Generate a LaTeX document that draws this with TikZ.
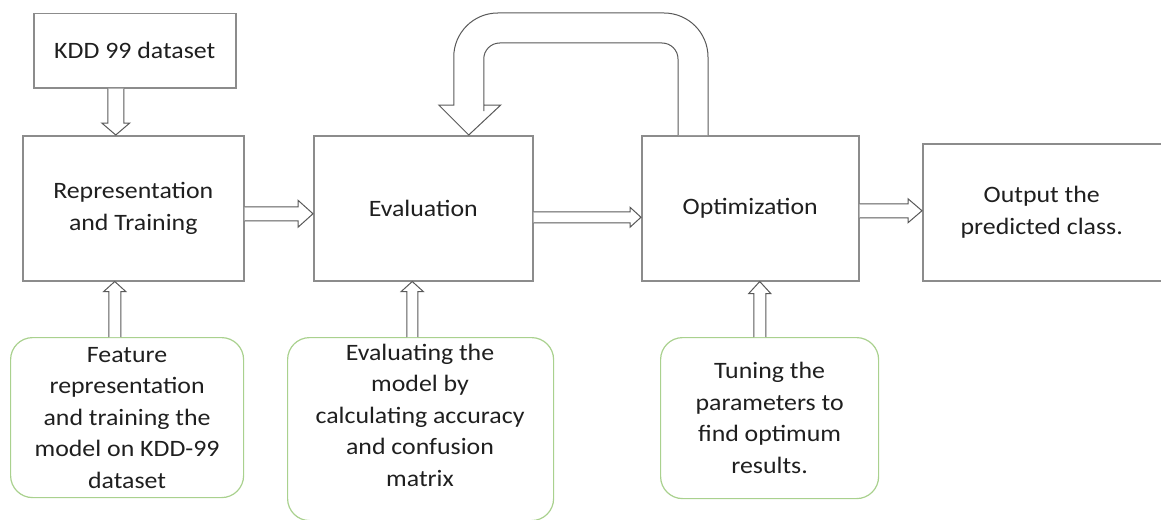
\documentclass[tikz,border=0pt]{standalone}
\usepackage{fontspec}
\setmainfont[FakeStretch=1.1]{Carlito}
\usetikzlibrary{calc}

\definecolor{boxline}{HTML}{8C8C8C}
\definecolor{arrowline}{HTML}{595959}
\definecolor{noteline}{HTML}{A9D18E}
\definecolor{txt}{HTML}{1F1F1F}

\tikzset{
  base/.style={font=\fontsize{23.5}{31.5}\selectfont, text=txt, align=center, inner sep=0pt},
  stepbox/.style={base, draw=boxline, line width=1.5pt, anchor=north west},
  notebox/.style={base, draw=noteline, line width=1.2pt, rounded corners=22pt, anchor=north west},
  notetext/.style={base},
  blockarrow/.style={draw=arrowline, fill=white, line width=1pt, line join=miter},
}

% straight hollow block arrow: tail, tip, shaft half-width, head half-width, head length
\newcommand\blockarrow[5]{%
  \coordinate (ba-head) at ($(#2)!#5!(#1)$);
  \draw[blockarrow] ($(#1)!#3!90:(#2)$) -- ($(ba-head)!#3!90:(#2)$)
    -- ($(ba-head)!#4!90:(#2)$) -- (#2) -- ($(ba-head)!#4!-90:(#2)$)
    -- ($(ba-head)!#3!-90:(#2)$) -- ($(#1)!#3!-90:(#2)$);
}

\begin{document}
\begin{tikzpicture}[x=1pt,y=-1pt]
\useasboundingbox (0,0) rectangle (1161,519);

% process steps
\node[stepbox, minimum width=202pt, minimum height=74pt] (kdd) at (33,13) {KDD 99 dataset};
\node[stepbox, minimum width=221pt, minimum height=145pt] (rep) at (22,135) {Representation\\and Training};
\node[stepbox, minimum width=219pt, minimum height=145pt] (eval) at (313,135) {Evaluation};
\node[stepbox, minimum width=217pt, minimum height=145pt] (opt) at (641,135) {Optimization};
\node[stepbox, minimum width=242pt, minimum height=137pt] (out) at (922,143) {\hspace*{-4pt}Output the\\\hspace*{-4pt}predicted class.};

% notes below the steps
\node[notebox, minimum width=233pt, minimum height=160pt] (featnote) at (10,337)
  {Feature\\representation\\and training the\\model on KDD-99\\dataset};
\node[notebox, minimum width=266pt, minimum height=183pt] (evalnote) at (287,337) {};
\node[notetext] (evaltext) at (420,415)
  {Evaluating the\\model by\\calculating accuracy\\and confusion\\matrix};
\node[notebox, minimum width=218pt, minimum height=161pt] (tunenote) at (660,337)
  {Tuning the\\parameters to\\find optimum\\results.};

% arrows between steps
\coordinate (a1tail) at ($(kdd.south)+(-19,0)$);
\coordinate (a1tip) at (a1tail |- rep.north);
\blockarrow{a1tail}{a1tip}{8pt}{14pt}{12pt}

\coordinate (a2tail) at ($(rep.east)+(0,5.5)$);
\coordinate (a2tip) at (a2tail -| eval.west);
\blockarrow{a2tail}{a2tip}{7pt}{13.5pt}{15pt}

\coordinate (a3tail) at ($(eval.east)+(0,9)$);
\coordinate (a3tip) at (a3tail -| opt.west);
\blockarrow{a3tail}{a3tip}{5.5pt}{10pt}{11pt}

\coordinate (a4tail) at ($(opt.east)+(0,2.5)$);
\coordinate (a4tip) at (a4tail -| out.west);
\blockarrow{a4tail}{a4tip}{7pt}{12pt}{14pt}

% arrows from the notes
\coordinate (b1tip) at ($(rep.south)+(-18.5,0)$);
\coordinate (b1tail) at (b1tip |- featnote.north);
\blockarrow{b1tail}{b1tip}{6pt}{11pt}{10pt}

\coordinate (b2tip) at ($(eval.south)+(-11,0)$);
\coordinate (b2tail) at (b2tip |- evalnote.north);
\blockarrow{b2tail}{b2tip}{5.5pt}{11pt}{10pt}

\coordinate (b3tip) at ($(opt.south)+(9.5,0)$);
\coordinate (b3tail) at (b3tip |- tunenote.north);
\blockarrow{b3tail}{b3tip}{6pt}{11pt}{12pt}

% feedback loop from optimization back to evaluation
\draw[blockarrow] let \p1=(opt.north west), \p2=(eval.north) in
  (\x1+37pt,\y1) [rounded corners=16pt]
  -- (\x1+37pt,\y1+92pt) -- (\x2+60.5pt,\y1+92pt) -- (\x2+60.5pt,\y1+40pt)
  [sharp corners] -- (\x2+60.5pt,\y1+30pt) -- (\x2+77.5pt,\y1+30pt)
  -- (\x2+45.5pt,\y1) -- (\x2+15.5pt,\y1+30pt) -- (\x2+30.5pt,\y1+30pt)
  -- (\x2+30.5pt,\y1+40pt) [rounded corners=44pt]
  -- (\x2+30.5pt,\y1+122pt) -- (\x1+67pt,\y1+122pt) -- (\x1+67pt,\y1);

\end{tikzpicture}
\end{document}
